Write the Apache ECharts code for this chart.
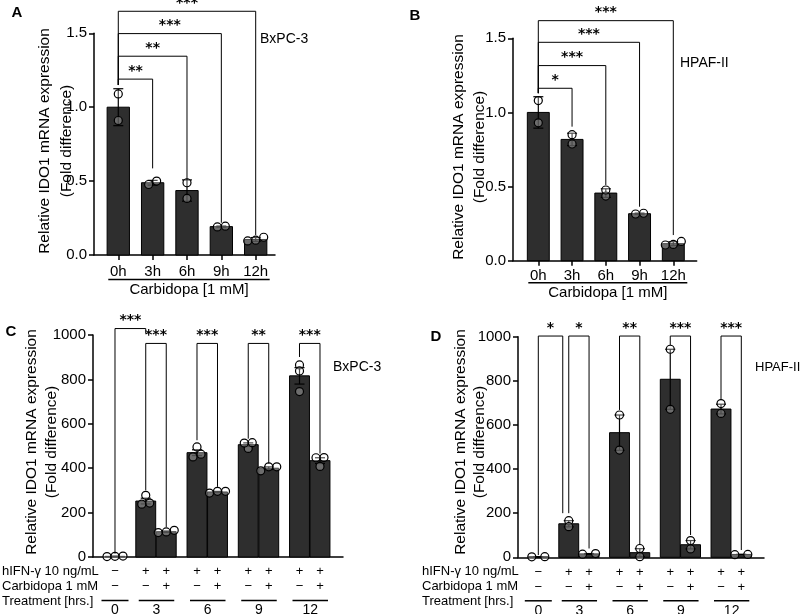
<!DOCTYPE html>
<html><head><meta charset="utf-8">
<script src="https://cdn.jsdelivr.net/npm/echarts@6/dist/echarts.min.js"></script>
<style>html,body{margin:0;padding:0;background:#fff}#c{width:800px;height:614px}</style>
</head><body><div id="c"></div>
<script>
// ---------------- data ----------------
const catsAB = ['0h', '3h', '6h', '9h', '12h'];
const meanA = [1.00, 0.489, 0.436, 0.192, 0.105];
const errA  = [0.125, 0.016, 0.072, 0.004, 0.013];
const ptsA  = [[1.09, 0.91], [0.477, 0.50], [0.489, 0.383], [0.19, 0.195], [0.095, 0.10, 0.12]];
const meanB = [1.00, 0.818, 0.456, 0.317, 0.115];
const errB  = [0.106, 0.042, 0.029, 0.004, 0.013];
const ptsB  = [[1.08, 0.93], [0.85, 0.787], [0.436, 0.477], [0.315, 0.32], [0.106, 0.11, 0.13]];
// brackets: [fromBar, toBar, level, leftLegBottom, rightLegBottom, label]
const brkA = [[0, 1, 1.19, 1.15, 0.586, '**'], [0, 2, 1.345, 1.15, 0.507, '**'], [0, 3, 1.498, 1.15, 0.218, '***'], [0, 4, 1.649, 1.15, 0.135, '***']];
const brkB = [[0, 1, 1.163, 1.13, 0.904, '*'], [0, 2, 1.316, 1.13, 0.51, '***'], [0, 3, 1.473, 1.13, 0.364, '***'], [0, 4, 1.619, 1.13, 0.173, '***']];

const groupsCD = ['0', '3', '6', '9', '12'];
const ifnRow  = ['−', '+', '+', '+', '+', '+', '+', '+', '+'];
const carbRow = ['−', '−', '+', '−', '+', '−', '+', '−', '+'];
const meanC = [3, 252, 114, 470, 293, 506, 400, 816, 434];
const errC  = [0.5, 13, 3, 13, 2.5, 8, 6, 37, 13];
const ptsC  = [[2, 3, 4], [243, 278, 238], [110, 120, 113], [451, 496, 463], [288, 296, 296], [489, 513, 515], [388, 406, 406], [865, 838, 745], [448, 408, 447]];
const meanD = [2.5, 152, 15.5, 565, 21, 807, 57, 672, 13];
const errD  = [0.5, 14, 1.5, 80, 18, 136, 19, 22, 0.5];
const ptsD  = [[2, 3], [166, 139], [14, 17], [645, 486], [40, 3], [943, 671], [76, 38], [697, 652], [12, 13]];
const brkC = [[0, 1, 1029, 15, 1007, '***'], [1, 2, 962, 300, 135, '***'], [3, 4, 962, 526, 316, '***'], [5, 6, 962, 533, 421, '**'], [7, 8, 962, 901, 466, '***']];
const brkD = [[0, 1, 1003, 10, 200, '*'], [1, 2, 1003, 200, 40, '*'], [3, 4, 1003, 668, 56, '**'], [5, 6, 1003, 962, 101, '***'], [7, 8, 1003, 713, 33, '***']];

// ---------------- layout ----------------
const FF = '"Liberation Sans", Arial, Helvetica, sans-serif';
const STARF = 'bold 14px "DejaVu Sans", sans-serif';
const posAB = i => i;
const posCD = i => { if (i === 0) return 0; const g = Math.floor((i - 1) / 2) + 1; return 1.5 + 2.5 * (g - 1) + ((i - 1) % 2); };

const panels = [
  { grid: { left: 94, top: 33.3, width: 181, height: 221.7 }, xmin: -0.707, xmax: 4.562, ymax: 1.5, yint: 0.5, dec: 1,
    means: meanA, errs: errA, pts: ptsA, brk: brkA, pos: posAB, barW: 0.65, spread: 8, gap: 0, type: 'AB', lblMargin: 9, ul: 24.5, tt: 35 },
  { grid: { left: 513, top: 38.3, width: 183.7, height: 222.4 }, xmin: -0.75, xmax: 4.693, ymax: 1.5, yint: 0.5, dec: 1,
    means: meanB, errs: errB, pts: ptsB, brk: brkB, pos: posAB, barW: 0.65, spread: 8, gap: 0, type: 'AB', lblMargin: 8, ul: 22, tt: 32.5 },
  { grid: { left: 93, top: 335, width: 250, height: 222 }, xmin: -1.073, xmax: 11.122, ymax: 1000, yint: 200, dec: 0,
    means: meanC, errs: errC, pts: ptsC, brk: brkC, pos: posCD, barW: 0.97, spread: 8, gap: 0, type: 'CD' },
  { grid: { left: 518, top: 336.7, width: 246, height: 220.6 }, xmin: -1.0, xmax: 11.118, ymax: 1000, yint: 200, dec: 0,
    means: meanD, errs: errD, pts: ptsD, brk: brkD, pos: posCD, barW: 0.98, spread: 13, gap: 6, type: 'CD' }
];

function swarm(vals, toPx, spacing, thr) {
  const idx = vals.map((v, i) => i).sort((a, b) => vals[a] - vals[b]);
  const clusters = []; let cur = [idx[0]];
  for (let k = 1; k < idx.length; k++) {
    if (Math.abs(toPx(vals[idx[k]]) - toPx(vals[cur[cur.length - 1]])) < thr) cur.push(idx[k]);
    else { clusters.push(cur); cur = [idx[k]]; }
  }
  clusters.push(cur);
  const off = new Array(vals.length).fill(0);
  clusters.forEach(c => c.forEach((j, k) => { off[j] = (k - (c.length - 1) / 2) * spacing; }));
  return off;
}

const grids = [], xAxes = [], yAxes = [], series = [];
const axisLineStyle = { color: '#000', width: 1.5 };

panels.forEach((p, gi) => {
  grids.push(p.grid);
  const xa = { type: 'value', gridIndex: gi, min: p.xmin, max: p.xmax,
    axisLine: { show: true, onZero: false, lineStyle: axisLineStyle },
    axisTick: { show: false }, axisLabel: { show: false }, splitLine: { show: false } };
  if (p.type === 'AB') {
    const cv = catsAB.map((c, i) => p.pos(i));
    xa.axisTick = { show: true, length: 5, customValues: cv, lineStyle: axisLineStyle };
    xa.axisLabel = { show: true, customValues: cv, margin: p.lblMargin, color: '#000', fontSize: 15, fontFamily: FF,
      formatter: v => catsAB[Math.round(v)] };
  }
  xAxes.push(xa);
  yAxes.push({ type: 'value', gridIndex: gi, min: 0, max: p.ymax, interval: p.yint,
    axisLine: { show: true, onZero: false, lineStyle: axisLineStyle },
    axisTick: { show: true, length: 5, lineStyle: axisLineStyle },
    axisLabel: { color: '#000', fontSize: 15, fontFamily: FF, margin: 7, formatter: v => v.toFixed(p.dec) },
    splitLine: { show: false } });

  // bars + error bars + points
  series.push({ type: 'custom', xAxisIndex: gi, yAxisIndex: gi, clip: false, z: 2,
    data: p.means.map((m, i) => [p.pos(i), m]),
    renderItem: (params, api) => {
      const i = params.dataIndex;
      const x = api.value(0), m = api.value(1);
      const base = api.coord([x, 0]), top = api.coord([x, m]);
      const w = p.barW * api.size([1, 0])[0];
      const e = p.errs[i];
      const et = api.coord([x, m + e]), eb = api.coord([x, Math.max(0, m - e)]);
      const cx = top[0], cap = 5;
      const ch = [
        { type: 'rect', shape: { x: cx - w / 2, y: top[1], width: w, height: base[1] - top[1] },
          style: { fill: '#2e2e2e', stroke: '#000', lineWidth: 1 } },
        { type: 'line', shape: { x1: cx, y1: et[1], x2: cx, y2: eb[1] }, style: { stroke: '#000', lineWidth: 1.2 } },
        { type: 'line', shape: { x1: cx - cap, y1: et[1], x2: cx + cap, y2: et[1] }, style: { stroke: '#000', lineWidth: 1.2 } },
        { type: 'line', shape: { x1: cx - cap, y1: eb[1], x2: cx + cap, y2: eb[1] }, style: { stroke: '#000', lineWidth: 1.2 } }
      ];
      const vals = p.pts[i];
      const off = swarm(vals, v => api.coord([x, v])[1], p.spread, 5);
      vals.forEach((v, k) => {
        const c = api.coord([x, v]);
        ch.push({ type: 'circle', shape: { cx: c[0] + off[k], cy: c[1], r: 4 },
          style: { fill: 'rgba(255,255,255,0.3)', stroke: '#000', lineWidth: 1.2 } });
      });
      if (p.type === 'CD') {
        ch.push({ type: 'text', x: cx, y: base[1] + 14.7, style: { text: ifnRow[i], font: '13px ' + FF, fill: '#000', align: 'center', verticalAlign: 'middle' } });
        ch.push({ type: 'text', x: cx, y: base[1] + 29.7, style: { text: carbRow[i], font: '13px ' + FF, fill: '#000', align: 'center', verticalAlign: 'middle' } });
      }
      return { type: 'group', children: ch };
    } });

  // significance brackets
  series.push({ type: 'custom', xAxisIndex: gi, yAxisIndex: gi, clip: false, z: 3,
    data: p.brk.map(b => [p.pos(b[0]), b[2]]),
    renderItem: (params, api) => {
      const j = params.dataIndex, b = p.brk[j];
      const a = api.coord([p.pos(b[0]), b[2]]);
      const c = api.coord([p.pos(b[1]), b[2]]);
      let x2 = c[0];
      const nxt = p.brk[j + 1];
      if (nxt && nxt[0] === b[1]) x2 -= p.gap;
      const lb = api.coord([p.pos(b[0]), b[3]])[1];
      const rb = api.coord([p.pos(b[1]), b[4]])[1];
      const st = { stroke: '#000', lineWidth: 1 };
      return { type: 'group', children: [
        { type: 'polyline', shape: { points: [[a[0], lb], [a[0], a[1]], [x2, a[1]], [x2, rb]] }, style: Object.assign({ fill: null }, st) },
        { type: 'text', x: (a[0] + x2) / 2, y: a[1] - 1, style: { text: b[5], font: STARF, fill: '#000', align: 'center', verticalAlign: 'bottom' } }
      ] };
    } });

  if (p.type === 'AB') {
    series.push({ type: 'custom', xAxisIndex: gi, yAxisIndex: gi, clip: false, z: 3,
      data: [[0, 0]],
      renderItem: (params, api) => {
        const a = api.coord([p.pos(0), 0]), b = api.coord([p.pos(catsAB.length - 1), 0]);
        const x1 = a[0] - 10, x2 = b[0] + 14;
        return { type: 'group', children: [
          { type: 'line', shape: { x1: x1, y1: a[1] + p.ul, x2: x2, y2: a[1] + p.ul }, style: { stroke: '#000', lineWidth: 1.5 } },
          { type: 'text', x: (x1 + x2) / 2, y: a[1] + p.tt, style: { text: 'Carbidopa [1 mM]', font: '15px ' + FF, fill: '#000', align: 'center', verticalAlign: 'middle' } }
        ] };
      } });
  } else {
    // treatment groups row
    series.push({ type: 'custom', xAxisIndex: gi, yAxisIndex: gi, clip: false, z: 3,
      data: groupsCD.map((g, k) => [k, 0]),
      renderItem: (params, api) => {
        const k = params.dataIndex;
        let x1, x2;
        if (k === 0) { const c = api.coord([p.pos(0), 0]); x1 = c[0] - 13.5; x2 = c[0] + 13.5; }
        else { const l = api.coord([p.pos(2 * k - 1), 0]), r = api.coord([p.pos(2 * k), 0]); x1 = l[0] - 7; x2 = r[0] + 8; }
        const y0 = api.coord([0, 0])[1];
        return { type: 'group', children: [
          { type: 'line', shape: { x1: x1, y1: y0 + 43.5, x2: x2, y2: y0 + 43.5 }, style: { stroke: '#000', lineWidth: 1.5 } },
          { type: 'text', x: (x1 + x2) / 2, y: y0 + 53.5, style: { text: groupsCD[k], font: '14px ' + FF, fill: '#000', align: 'center', verticalAlign: 'middle' } }
        ] };
      } });
  }
});

// ---------------- text annotations ----------------
const T = (text, x, y, font, align, rot) => ({ type: 'text', x: x, y: y, rotation: rot || 0, z: 10,
  style: { text: text, font: font, fill: '#000', align: align || 'center', verticalAlign: 'middle' } });
const L1 = 'Relative IDO1 mRNA expression', L2 = '(Fold difference)';
const R = Math.PI / 2, f15 = '15.5px ' + FF, f13 = '13px ' + FF, fb = 'bold 15px ' + FF;
const graphics = [
  T('A', 17, 13, fb), T('B', 415, 16, fb), T('C', 11, 332, fb), T('D', 436, 337, fb),
  T(L1, 45, 141, f15, 'center', R), T(L2, 67, 141, f15, 'center', R),
  T(L1, 459, 147, f15, 'center', R), T(L2, 480, 147, f15, 'center', R),
  T(L1, 32, 442, f15, 'center', R), T(L2, 52, 442, f15, 'center', R),
  T(L1, 461, 442, f15, 'center', R), T(L2, 480, 442, f15, 'center', R),
  T('BxPC-3', 260, 39, '14px ' + FF, 'left'), T('HPAF-II', 680, 63, '14px ' + FF, 'left'),
  T('BxPC-3', 333, 367.5, '14px ' + FF, 'left'), T('HPAF-II', 755, 367, '13px ' + FF, 'left'),
  T('hIFN-γ 10 ng/mL', 2, 571.7, f13, 'left'), T('Carbidopa 1 mM', 2, 586.7, f13, 'left'), T('Treatment [hrs.]', 2, 601.7, f13, 'left'),
  T('hIFN-γ 10 ng/mL', 422, 571.7, f13, 'left'), T('Carbidopa 1 mM', 422, 586.7, f13, 'left'), T('Treatment [hrs.]', 422, 601.7, f13, 'left')
];

const chart = echarts.init(document.getElementById('c'), null, { renderer: 'canvas' });
chart.setOption({
  animation: false,
  backgroundColor: '#fff',
  grid: grids, xAxis: xAxes, yAxis: yAxes, series: series,
  graphic: graphics
});
</script></body></html>
